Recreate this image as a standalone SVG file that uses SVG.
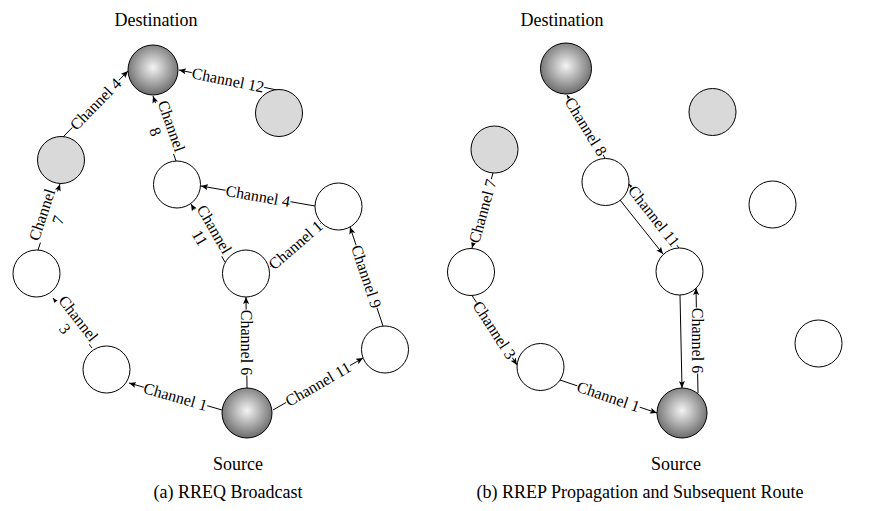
<svg xmlns="http://www.w3.org/2000/svg" width="874" height="511" viewBox="0 0 874 511">
  <defs>
    <radialGradient id="shade" cx="0.5" cy="0.45" r="0.55">
      <stop offset="0" stop-color="#f4f4f4"/>
      <stop offset="1" stop-color="#6c6c6c"/>
    </radialGradient>
    <marker id="arrow" markerUnits="userSpaceOnUse" markerWidth="8" markerHeight="6" refX="7" refY="3" orient="auto">
      <path d="M0,0 L7,3 L0,6 L1.5,3 z" fill="#000"/>
    </marker>
    <style>
      .node { stroke: #000; stroke-width: 1; }
      .plain { fill: #fff; }
      .grey { fill: #d9d9d9; }
      .term { fill: url(#shade); }
      .edge { stroke: #000; stroke-width: 1; fill: none; marker-end: url(#arrow); }
      .lbl { font-family: "Liberation Serif", "Times New Roman", serif; font-size: 16px; fill: #000; text-anchor: middle; dominant-baseline: central; }
      .bg { fill: #fff; }
      .title { font-family: "Liberation Serif", "Times New Roman", serif; font-size: 18px; fill: #000; text-anchor: middle; }
    </style>
  </defs>

  <!-- (a) RREQ broadcast -->
  <g id="connectors-a">
    <line class="edge" x1="222" y1="410" x2="129" y2="383"/>
    <line class="edge" x1="92" y1="348" x2="53" y2="298"/>
    <line class="edge" x1="38" y1="250" x2="60" y2="184"/>
    <line class="edge" x1="63" y1="137" x2="128" y2="71"/>
    <line class="edge" x1="277" y1="90" x2="179" y2="70"/>
    <line class="edge" x1="176" y1="161" x2="153" y2="96"/>
    <line class="edge" x1="315" y1="206" x2="201" y2="186"/>
    <line class="edge" x1="225" y1="262" x2="191" y2="204"/>
    <line class="edge" x1="270" y1="267" x2="321" y2="223"/>
    <line class="edge" x1="247" y1="388" x2="246" y2="297"/>
    <line class="edge" x1="273" y1="410" x2="363" y2="358"/>
    <line class="edge" x1="383" y1="326" x2="350" y2="227"/>

    <g transform="translate(175.5,396.5) rotate(16.2)"><rect class="bg" x="-33" y="-8" width="66" height="16"/><text class="lbl">Channel 1</text></g>
    <g transform="translate(72.5,323) rotate(52)"><rect class="bg" x="-27" y="-16" width="54" height="32"/><text class="lbl"><tspan x="0" dy="-8">Channel</tspan><tspan x="0" dy="17">3</tspan></text></g>
    <g transform="translate(49,217) rotate(-71.6)"><rect class="bg" x="-27" y="-16" width="54" height="32"/><text class="lbl"><tspan x="0" dy="-8">Channel</tspan><tspan x="0" dy="17">7</tspan></text></g>
    <g transform="translate(95.5,104) rotate(-45.5)"><rect class="bg" x="-33" y="-8" width="66" height="16"/><text class="lbl">Channel 4</text></g>
    <g transform="translate(228,80) rotate(11.5)"><rect class="bg" x="-37" y="-8" width="74" height="16"/><text class="lbl">Channel 12</text></g>
    <g transform="translate(164.5,128.5) rotate(70.5)"><rect class="bg" x="-27" y="-16" width="54" height="32"/><text class="lbl"><tspan x="0" dy="-8">Channel</tspan><tspan x="0" dy="17">8</tspan></text></g>
    <g transform="translate(258,196) rotate(10)"><rect class="bg" x="-33" y="-8" width="66" height="16"/><text class="lbl">Channel 4</text></g>
    <g transform="translate(208,233) rotate(59.6)"><rect class="bg" x="-27" y="-16" width="54" height="32"/><text class="lbl"><tspan x="0" dy="-8">Channel</tspan><tspan x="0" dy="17">11</tspan></text></g>
    <g transform="translate(295.5,245) rotate(-40.8)"><rect class="bg" x="-33" y="-8" width="66" height="16"/><text class="lbl">Channel 1</text></g>
    <g transform="translate(246.5,342.5) rotate(90)"><rect class="bg" x="-33" y="-8" width="66" height="16"/><text class="lbl">Channel 6</text></g>
    <g transform="translate(318,384) rotate(-30)"><rect class="bg" x="-37" y="-8" width="74" height="16"/><text class="lbl">Channel 11</text></g>
    <g transform="translate(366.5,276.5) rotate(71.6)"><rect class="bg" x="-33" y="-8" width="66" height="16"/><text class="lbl">Channel 9</text></g>
  </g>

  <g id="a-destination"><circle class="node term" cx="153" cy="70" r="25"/></g>
  <g id="a-grey-left"><circle class="node grey" cx="61" cy="160" r="23.5"/></g>
  <g id="a-grey-right"><circle class="node grey" cx="279" cy="113" r="23.5"/></g>
  <g id="a-n1"><circle class="node plain" cx="177" cy="184.5" r="23.5"/></g>
  <g id="a-n2"><circle class="node plain" cx="338.5" cy="206.5" r="23.5"/></g>
  <g id="a-n3"><circle class="node plain" cx="246" cy="273.5" r="23.5"/></g>
  <g id="a-n4"><circle class="node plain" cx="385" cy="349.5" r="23.5"/></g>
  <g id="a-n5"><circle class="node plain" cx="36.5" cy="273.5" r="23.5"/></g>
  <g id="a-n6"><circle class="node plain" cx="106.5" cy="369.5" r="23.5"/></g>
  <g id="a-source"><circle class="node term" cx="247" cy="413" r="25"/></g>

  <!-- (b) RREP propagation and subsequent route -->
  <g id="connectors-b">
    <line class="edge" x1="605" y1="158" x2="567" y2="95"/>
    <line class="edge" x1="493" y1="173" x2="472" y2="248"/>
    <line class="edge" x1="472" y1="295.5" x2="517" y2="365"/>
    <line class="edge" x1="560" y1="380" x2="657" y2="413"/>
    <line class="edge" x1="679" y1="248" x2="629" y2="184"/>
    <line class="edge" x1="620" y1="200" x2="663" y2="254"/>
    <line class="edge" x1="698" y1="393" x2="696" y2="288"/>
    <line class="edge" x1="680" y1="295" x2="682" y2="388"/>

    <g transform="translate(586,126.5) rotate(58.4)"><rect class="bg" x="-33" y="-8" width="66" height="16"/><text class="lbl">Channel 8</text></g>
    <g transform="translate(482.5,211) rotate(-74.5)"><rect class="bg" x="-33" y="-8" width="66" height="16"/><text class="lbl">Channel 7</text></g>
    <g transform="translate(494.5,330) rotate(57)"><rect class="bg" x="-33" y="-8" width="66" height="16"/><text class="lbl">Channel 3</text></g>
    <g transform="translate(608.5,396.5) rotate(18.8)"><rect class="bg" x="-33" y="-8" width="66" height="16"/><text class="lbl">Channel 1</text></g>
    <g transform="translate(654,216) rotate(52)"><rect class="bg" x="-37" y="-8" width="74" height="16"/><text class="lbl">Channel 11</text></g>
    <g transform="translate(697,340.5) rotate(90)"><rect class="bg" x="-33" y="-8" width="66" height="16"/><text class="lbl">Channel 6</text></g>
  </g>

  <g id="b-destination"><circle class="node term" cx="566" cy="68.5" r="25.5"/></g>
  <g id="b-grey-left"><circle class="node grey" cx="494.5" cy="149.5" r="23.5"/></g>
  <g id="b-grey-right"><circle class="node grey" cx="712.5" cy="112" r="23.5"/></g>
  <g id="b-n1"><circle class="node plain" cx="772.5" cy="204.5" r="23.5"/></g>
  <g id="b-n2"><circle class="node plain" cx="605.5" cy="182" r="23.5"/></g>
  <g id="b-n3"><circle class="node plain" cx="679.5" cy="271.5" r="23.5"/></g>
  <g id="b-n4"><circle class="node plain" cx="818.5" cy="343.5" r="23.5"/></g>
  <g id="b-n5"><circle class="node plain" cx="471" cy="272" r="23.5"/></g>
  <g id="b-n6"><circle class="node plain" cx="540.5" cy="367" r="23.5"/></g>
  <g id="b-source"><circle class="node term" cx="682" cy="413" r="25"/></g>

  <!-- headings and captions -->
  <text class="title" x="156" y="26">Destination</text>
  <text class="title" x="562" y="26">Destination</text>
  <text class="title" x="238" y="470">Source</text>
  <text class="title" x="676" y="470">Source</text>
  <text class="title" x="228" y="498">(a) RREQ Broadcast</text>
  <text class="title" x="640" y="498">(b) RREP Propagation and Subsequent Route</text>
</svg>
